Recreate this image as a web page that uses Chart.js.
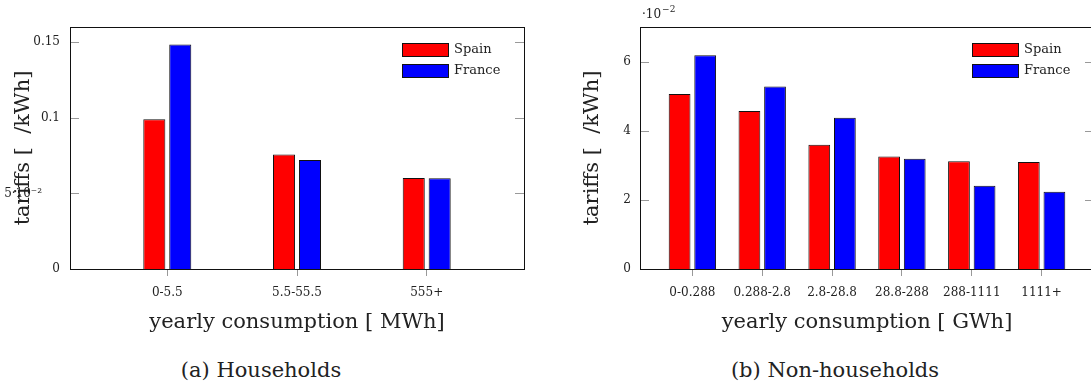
<!DOCTYPE html>
<html>
<head>
<meta charset="utf-8">
<script src="https://cdn.jsdelivr.net/npm/chart.js@4.4.1/dist/chart.umd.min.js"></script>
<style>
  html, body { margin: 0; padding: 0; background: #fff; overflow: hidden; }
  body { width: 1091px; height: 385px; position: relative; }
  canvas { position: absolute; top: 0; }
  #left { left: 0; }
  #right { left: 560px; }
  .cap { position: absolute; top: 358px; font: 21px 'DejaVu Serif'; line-height: 24px; color: #222; transform: translateX(-50%); white-space: nowrap; }
</style>
</head>
<body>
<canvas id="left" width="530" height="345"></canvas>
<canvas id="right" width="540" height="345"></canvas>
<div class="cap" style="left:261px">(a) Households</div>
<div class="cap" style="left:835px">(b) Non-households</div>
<script>
// households, tariffs in /kWh
const houseCats = ['0-5.5', '5.5-55.5', '555+'];
const houseSpain = [0.099, 0.0757, 0.0601];
const houseFrance = [0.1485, 0.072, 0.060];
const houseTicks = [0, 0.05, 0.1, 0.15];

// non-households, tariffs in 10^-2 /kWh
const bizCats = ['0-0.288', '0.288-2.8', '2.8-28.8', '28.8-288', '288-1111', '1111+'];
const bizSpain = [5.07, 4.58, 3.60, 3.26, 3.12, 3.10];
const bizFrance = [6.19, 5.29, 4.38, 3.19, 2.41, 2.24];
const bizTicks = [0, 2, 4, 6];

Chart.defaults.font.family = 'DejaVu Serif';
Chart.defaults.color = '#222';

// frame, inner y ticks, legend and the axis multiplier
const framePlugin = {
    id: 'frame',
    afterDatasetsDraw(chart, args, opts) {
        const { ctx, chartArea: a } = chart;
        const y = chart.scales.y;
        ctx.save();
        ctx.lineWidth = 1;
        ctx.strokeStyle = '#999';
        y.ticks.forEach(t => {
            const py = Math.round(y.getPixelForValue(t.value)) + 0.5;
            ctx.beginPath();
            ctx.moveTo(a.left, py);
            ctx.lineTo(a.left + 9, py);
            ctx.moveTo(a.right - 9, py);
            ctx.lineTo(a.right, py);
            ctx.stroke();
        });
        ctx.strokeStyle = '#111';
        ctx.strokeRect(Math.round(a.left) + 0.5, Math.round(a.top) + 0.5,
            Math.round(a.right - a.left), Math.round(a.bottom - a.top));

        chart.data.datasets.forEach((ds, i) => {
            const lx = a.right - 122, ly = 43 + i * 21;
            ctx.fillStyle = ds.backgroundColor;
            ctx.fillRect(lx, ly, 47, 14);
            ctx.strokeStyle = '#111';
            ctx.strokeRect(lx + 0.5, ly + 0.5, 46, 13);
            ctx.fillStyle = '#222';
            ctx.font = '13px "DejaVu Serif"';
            ctx.textBaseline = 'middle';
            ctx.fillText(ds.label, lx + 52, ly + 7);
        });

        if (opts.multiplier) {
            ctx.fillStyle = '#222';
            ctx.textBaseline = 'alphabetic';
            ctx.font = '12px "DejaVu Serif"';
            ctx.fillText('·10', a.left + 2, 18);
            const w = ctx.measureText('·10').width;
            ctx.font = '9px "DejaVu Serif"';
            ctx.fillText('−2', a.left + 2 + w + 1, 12);
        }
        ctx.restore();
    }
};

function makeChart(id, cats, spain, france, yTicks, yMax, fmt, xTitle, catPct, yWidth, yTitlePad, yTickPad, multiplier) {
    return new Chart(document.getElementById(id), {
        type: 'bar',
        data: {
            datasets: [
                {
                    label: 'Spain',
                    data: spain.map((v, i) => ({ x: i, y: v })),
                    backgroundColor: '#ff0000',
                    borderColor: '#111',
                    borderWidth: 1,
                },
                {
                    label: 'France',
                    data: france.map((v, i) => ({ x: i, y: v })),
                    backgroundColor: '#0000ff',
                    borderColor: '#111',
                    borderWidth: 1,
                }
            ],
        },
        options: {
            responsive: false,
            animation: false,
            categoryPercentage: catPct,
            barPercentage: 0.85,
            layout: { padding: { top: 27, left: 0, right: 6, bottom: 0 } },
            plugins: {
                legend: { display: false },
                tooltip: { enabled: false },
                frame: { multiplier: multiplier },
            },
            scales: {
                x: {
                    type: 'linear',
                    offset: false,
                    min: -0.75,
                    max: cats.length - 0.25,
                    afterBuildTicks: s => { s.ticks = cats.map((c, i) => ({ value: i })); },
                    afterFit: s => { s.height = 76; },
                    grid: { offset: false, drawOnChartArea: false, tickLength: 7, color: '#999' },
                    border: { display: false },
                    ticks: {
                        font: { size: 12 },
                        padding: 10,
                        maxRotation: 0,
                        autoSkip: false,
                        callback: v => cats[v],
                    },
                    title: {
                        display: true,
                        text: xTitle,
                        font: { size: 21 },
                        padding: { top: 0, bottom: 9.4 },
                    },
                },
                y: {
                    min: 0,
                    max: yMax,
                    afterBuildTicks: s => { s.ticks = yTicks.map(v => ({ value: v })); },
                    afterFit: s => { s.width = yWidth; },
                    grid: { display: false, drawTicks: false },
                    border: { display: false },
                    ticks: { font: { size: 12 }, padding: yTickPad, callback: fmt },
                    title: {
                        display: true,
                        text: 'tariffs [  /kWh]',
                        font: { size: 21 },
                        padding: { top: yTitlePad, bottom: 0 },
                    },
                },
            },
        },
        plugins: [framePlugin],
    });
}

makeChart('left', houseCats, houseSpain, houseFrance, houseTicks, 0.16,
    v => v === 0.05 ? '5·10⁻²\u2002\u2002\u2002' : String(v),
    'yearly consumption [ MWh]', 0.4, 70, 11.4, 10, false);

makeChart('right', bizCats, bizSpain, bizFrance, bizTicks, 7.01,
    v => String(v),
    'yearly consumption [ GWh]', 0.733, 80, 20.4, 9, true);
</script>
</body>
</html>
